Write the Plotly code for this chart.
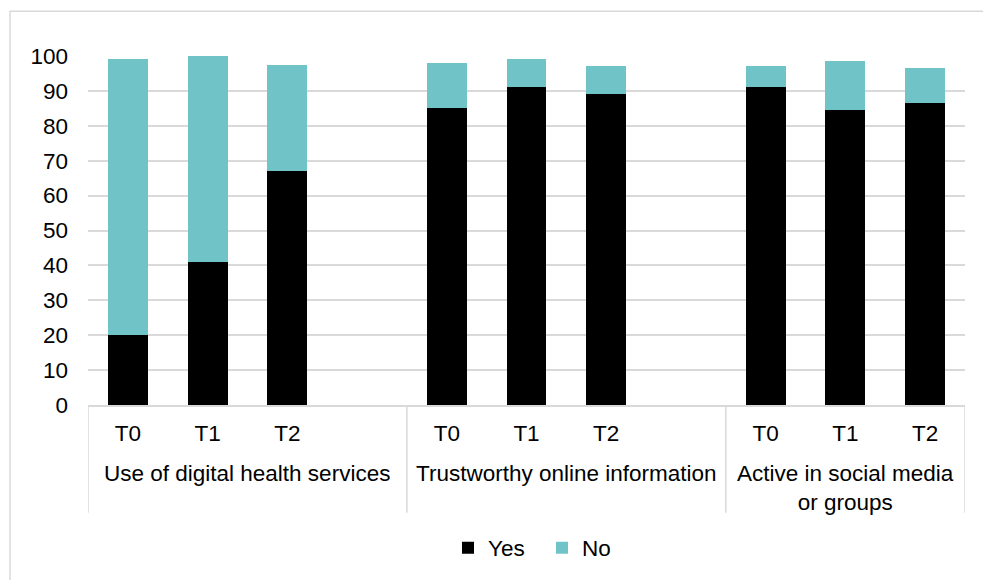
import plotly.graph_objects as go

# Outcome groups and survey time points
groups = ["Use of digital health services",
          "Trustworthy online information",
          "Active in social media<br>or groups"]
timepoints = ["T0", "T1", "T2"]

# Percentages per group, ordered T0, T1, T2 within each group
yes_values = [20, 41, 67, 85, 91, 89, 91, 84.5, 86.5]
no_values = [79, 59, 30.5, 13, 8, 8, 6, 14, 10]

y_ticks = [0, 10, 20, 30, 40, 50, 60, 70, 80, 90, 100]

YES_COLOR = "#000000"
NO_COLOR = "#70C4C8"
GRID = "#D9D9D9"
FONT = "Liberation Sans, Arial, sans-serif"
FS = 22.5

# Slot layout: first two groups carry a blank spacer slot after T2
slots_per_group = [4, 4, 3]
x_pos, x_text, group_centers, boundaries = [], [], [], [-0.5]
start = 0
for g, n in enumerate(slots_per_group):
    for i, tp in enumerate(timepoints):
        x_pos.append(start + i)
        x_text.append(tp)
    group_centers.append(start + (n - 1) / 2)
    start += n
    boundaries.append(start - 0.5)

fig = go.Figure()
fig.add_trace(go.Bar(x=x_pos, y=yes_values, name="Yes", width=0.5,
                     marker=dict(color=YES_COLOR, line=dict(width=0))))
fig.add_trace(go.Bar(x=x_pos, y=no_values, name="No", width=0.5,
                     marker=dict(color=NO_COLOR, line=dict(width=0))))

L, R, T, B = 88, 18, 56, 174
W, H = 983, 580
pw, ph = W - L - R, H - T - B

def px_to_paper_x(px):
    return (px - L) / pw

def px_to_paper_y(py):
    return (H - B - py) / ph

shapes = [
    # light frame around the chart
    dict(type="rect", xref="paper", yref="paper",
         x0=px_to_paper_x(10), x1=px_to_paper_x(1000),
         y0=px_to_paper_y(600), y1=px_to_paper_y(11),
         line=dict(color=GRID, width=1.5), layer="below"),
]
for b in boundaries:
    shapes.append(dict(type="line", xref="x", yref="paper",
                       x0=b, x1=b, y0=px_to_paper_y(514), y1=0,
                       line=dict(color=GRID, width=1.5)))

annotations = []
for name, cx in zip(groups, group_centers):
    annotations.append(dict(x=cx, y=px_to_paper_y(460), xref="x", yref="paper",
                            text=name, showarrow=False, xanchor="center",
                            yanchor="top", align="center",
                            font=dict(family=FONT, size=FS, color="#000")))

fig.update_layout(
    width=W, height=H,
    margin=dict(l=L, r=R, t=T, b=B),
    paper_bgcolor="white", plot_bgcolor="white",
    barmode="stack",
    font=dict(family=FONT, size=FS, color="#000"),
    shapes=shapes,
    annotations=annotations,
    showlegend=True,
    legend=dict(orientation="h", x=px_to_paper_x(448), xanchor="left",
                y=px_to_paper_y(548), yanchor="middle",
                entrywidth=49, entrywidthmode="pixels",
                font=dict(family=FONT, size=FS, color="#000"),
                traceorder="normal", itemclick=False),
    xaxis=dict(range=[-0.5, 10.5], tickmode="array", tickvals=x_pos,
               ticktext=x_text, showgrid=False, zeroline=False,
               showline=True, linecolor=GRID, linewidth=1.5,
               ticks="", ticklabelstandoff=7,
               tickfont=dict(family=FONT, size=FS, color="#000")),
    yaxis=dict(range=[0, 100], tickmode="array", tickvals=y_ticks,
               showgrid=True, gridcolor=GRID, gridwidth=1.5,
               zeroline=False, showline=False, ticks="",
               ticklabelstandoff=19,
               tickfont=dict(family=FONT, size=FS, color="#000")),
)

fig.write_html("out.html")
